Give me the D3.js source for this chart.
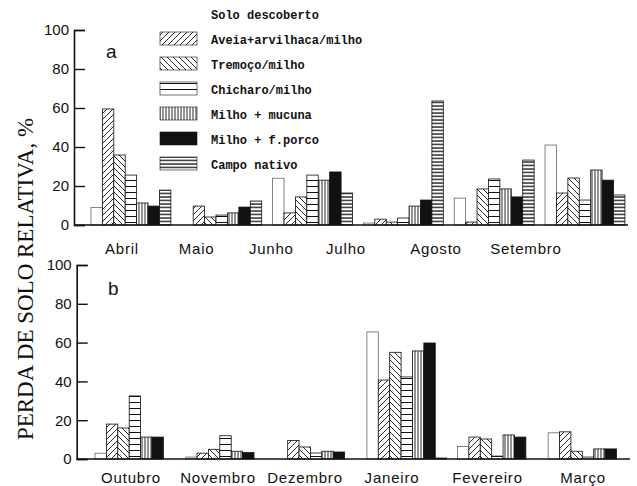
<!DOCTYPE html>
<html>
<head>
<meta charset="utf-8">
<script src="https://cdn.jsdelivr.net/npm/d3@7"></script>
<style>
  body { margin: 0; background: #fff; }
</style>
</head>
<body>
<svg id="chart" width="637" height="486"></svg>
<script>
// series, in legend order
var seriesNames = ["Solo descoberto", "Aveia+arvilhaca/milho", "Tremoço/milho",
    "Chicharo/milho", "Milho + mucuna", "Milho + f.porco", "Campo nativo"];

var monthsA = ["Abril", "Maio", "Junho", "Julho", "Agosto", "Setembro"];
var monthsB = ["Outubro", "Novembro", "Dezembro", "Janeiro", "Fevereiro", "Março"];

// one row per series, one value per month (%)
var lossA = [
    [9, 0, 24, 1, 13.8, 41],
    [59.5, 9.7, 6.2, 3, 1.5, 16.4],
    [35.9, 4.1, 14.4, 1.5, 18.5, 24.1],
    [25.6, 5.1, 25.6, 3.6, 23.6, 12.8],
    [11.3, 6.2, 23, 9.7, 18.5, 28.2],
    [9.7, 9.2, 27.2, 12.8, 14.4, 23],
    [17.9, 12.3, 16.4, 63.6, 33.3, 15.4]
];
var lossB = [
    [3, 1, 0, 65.5, 6.5, 13.5],
    [18, 3, 9.5, 40.7, 11.3, 14],
    [16, 5, 6.2, 55, 10.3, 4],
    [32.5, 12, 3.1, 42.3, 1.5, 1],
    [11.3, 4, 4, 55.7, 12.4, 5.2],
    [11.3, 3.3, 3.6, 59.8, 11.3, 5.2],
    [0, 0, 0, 0.5, 0, 0]
];

var yTicks = [0, 20, 40, 60, 80, 100];

var svg = d3.select("#chart");
var defs = svg.append("defs");
var ink = "#111";

function addPattern(id, w, h, d, sw) {
    var p = defs.append("pattern")
        .attr("id", id)
        .attr("patternUnits", "userSpaceOnUse")
        .attr("width", w)
        .attr("height", h);
    p.append("rect").attr("width", w).attr("height", h).attr("fill", "#fff");
    p.append("path").attr("d", d).attr("stroke", ink).attr("stroke-width", sw).attr("fill", "none");
}
addPattern("p-up", 6, 6, "M0,6L6,0M-1,1L1,-1M5,7L7,5", 0.9);
addPattern("p-down", 6, 6, "M0,0L6,6M-1,5L1,7M5,-1L7,1", 0.9);
addPattern("p-hsparse", 8, 6, "M0,0.5H8", 1);
addPattern("p-vert", 3, 4, "M1,0V4", 0.9);
addPattern("p-hdense", 4, 3.5, "M0,1H4", 1.3);

var fills = ["#fff", "url(#p-up)", "url(#p-down)", "url(#p-hsparse)",
    "url(#p-vert)", ink, "url(#p-hdense)"];

function drawPanel(o) {
    var y = d3.scaleLinear().domain([0, 100]).range([o.y0, o.y1]);
    var x = d3.scaleBand().domain(o.months).range(o.xr)
        .paddingInner(0.12).paddingOuter(0.2);
    var xs = d3.scaleBand().domain(d3.range(seriesNames.length)).range([0, x.bandwidth()]);
    var g = svg.append("g");

    var rows = [];
    o.values.forEach(function (vals, si) {
        vals.forEach(function (v, mi) {
            rows.push({ s: si, m: o.months[mi], v: v });
        });
    });

    g.selectAll("rect.bar")
        .data(rows.filter(function (d) { return d.v > 0; }))
        .join("rect")
        .attr("class", "bar")
        .attr("x", function (d) { return x(d.m) + xs(d.s); })
        .attr("width", xs.bandwidth())
        .attr("y", function (d) { return y(d.v); })
        .attr("height", function (d) { return y(0) - y(d.v); })
        .attr("fill", function (d) { return fills[d.s]; })
        .attr("stroke", function (d) { return d.s === 0 ? "#666" : ink; })
        .attr("stroke-width", 0.8);

    // baseline
    g.append("line")
        .attr("x1", o.axisX).attr("x2", o.xEnd)
        .attr("y1", y(0)).attr("y2", y(0))
        .attr("stroke", ink).attr("stroke-width", 1.6);

    // y axis, ticks pointing inwards
    var ax = g.append("g")
        .attr("transform", "translate(" + o.axisX + ",0)")
        .call(d3.axisLeft(y).tickValues(yTicks).tickSizeInner(-11).tickSizeOuter(-11).tickPadding(5));
    ax.select(".domain").attr("stroke", ink).attr("stroke-width", 1.6);
    ax.selectAll(".tick line").attr("stroke", ink).attr("stroke-width", 1.4);
    ax.selectAll(".tick text")
        .attr("font-family", "'Liberation Sans', Arial, sans-serif")
        .attr("font-size", 15)
        .attr("fill", ink);

    // month labels
    var lx = d3.scaleLinear().domain([0, 3, 5]).range(o.labelRange);
    g.selectAll("text.month")
        .data(o.months)
        .join("text")
        .attr("class", "month")
        .attr("x", function (d, i) { return lx(i); })
        .attr("y", o.labelY)
        .attr("text-anchor", "middle")
        .attr("font-family", "'Liberation Sans', Arial, sans-serif")
        .attr("font-size", 15)
        .attr("letter-spacing", 0.8)
        .attr("fill", ink)
        .text(function (d) { return d; });

    g.append("text")
        .attr("x", o.letterPos[0]).attr("y", o.letterPos[1])
        .attr("font-family", "'Liberation Sans', Arial, sans-serif")
        .attr("font-size", 19)
        .attr("fill", ink)
        .text(o.letter);
}

drawPanel({
    months: monthsA, values: lossA,
    y0: 225, y1: 30, xr: [72.8, 643.1], axisX: 74, xEnd: 628,
    labelRange: [122, 346, 526], labelY: 254,
    letter: "a", letterPos: [106, 58]
});
drawPanel({
    months: monthsB, values: lossB,
    y0: 459, y1: 265, xr: [76.9, 646], axisX: 76.7, xEnd: 630,
    labelRange: [131, 392, 583], labelY: 483,
    letter: "b", letterPos: [108, 295]
});

// legend
var legend = svg.append("g");
var ly = d3.scalePoint().domain(d3.range(seriesNames.length)).range([20, 170]);
var item = legend.selectAll("g.item")
    .data(seriesNames)
    .join("g")
    .attr("class", "item")
    .attr("transform", function (d, i) { return "translate(0," + ly(i) + ")"; });
item.filter(function (d, i) { return i > 0; })
    .append("rect")
    .attr("x", 160).attr("y", -13)
    .attr("width", 37).attr("height", 13)
    .attr("fill", function (d) { return fills[seriesNames.indexOf(d)]; })
    .attr("stroke", ink).attr("stroke-width", 0.6);
item.append("text")
    .attr("x", 211).attr("y", -1)
    .attr("font-family", "'Liberation Mono', 'Courier New', monospace")
    .attr("font-size", 12)
    .attr("font-weight", "bold")
    .attr("fill", ink)
    .text(function (d) { return d; });

// y axis title
svg.append("text")
    .attr("transform", "translate(33,279) rotate(-90)")
    .attr("text-anchor", "middle")
    .attr("font-family", "'Liberation Serif', 'Times New Roman', serif")
    .attr("font-size", 23)
    .attr("fill", ink)
    .text("PERDA DE SOLO RELATIVA, %");
</script>
</body>
</html>
